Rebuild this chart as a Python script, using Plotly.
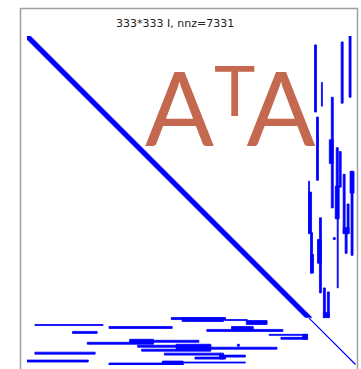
import plotly.graph_objects as go

# Sparsity pattern of the normal-equations matrix A^T A
N = 333
NNZ = 7331
band_rows = 285      # leading rows that carry the wide diagonal band
band_half = 3        # half-width of that band (|i - j| <= band_half)

# vertical runs of nonzeros in the trailing columns:
# (row_start, row_end, col_start, col_end), all inclusive
col_runs = [
    (9, 76, 291, 292),
    (47, 70, 298, 298),
    (6, 67, 318, 319),
    (0, 61, 326, 327),
    (82, 145, 293, 294),
    (62, 173, 308, 309),
    (105, 128, 306, 309),
    (113, 184, 313, 314),
    (152, 184, 312, 315),
    (117, 152, 316, 317),
    (152, 254, 314, 314),
    (140, 199, 320, 321),
    (170, 199, 324, 325),
    (194, 199, 320, 325),
    (196, 219, 322, 323),
    (137, 221, 328, 329),
    (137, 158, 327, 330),
    (147, 199, 285, 285),
    (158, 199, 285, 287),
    (199, 239, 287, 288),
    (221, 239, 287, 289),
    (184, 259, 296, 297),
    (206, 229, 294, 297),
    (255, 284, 300, 301),
    (259, 284, 304, 305),
    (280, 284, 300, 305),
    (204, 205, 310, 311),
]

# horizontal runs of nonzeros in the trailing rows
row_runs = [
    (285, 286, 146, 200),
    (285, 288, 157, 198),
    (287, 287, 200, 222),
    (288, 291, 222, 242),
    (292, 292, 8, 76),
    (294, 295, 83, 146),
    (294, 297, 207, 228),
    (297, 298, 182, 258),
    (299, 300, 46, 70),
    (302, 302, 245, 283),
    (305, 306, 257, 283),
    (302, 306, 279, 283),
    (308, 309, 104, 173),
    (307, 309, 104, 127),
    (310, 311, 61, 127),
    (312, 313, 213, 214),
    (313, 314, 112, 185),
    (312, 317, 151, 185),
    (315, 316, 185, 252),
    (317, 318, 116, 185),
    (320, 321, 8, 68),
    (321, 322, 139, 195),
    (323, 324, 195, 220),
    (321, 326, 195, 198),
    (325, 326, 170, 200),
    (328, 329, 0, 61),
    (330, 330, 137, 220),
    (331, 332, 83, 157),
    (329, 332, 137, 157),
]

BLUE = "#0000ff"

# each run becomes a filled cell-aligned rectangle
xs, ys = [], []
for r0, r1, c0, c1 in col_runs + row_runs:
    xl, xr = c0 - 0.5, c1 + 0.5
    yt, yb = r0 - 0.5, r1 + 0.5
    xs += [xl, xr, xr, xl, xl, None]
    ys += [yt, yt, yb, yb, yt, None]

# wide band along the leading part of the diagonal
e = band_rows - 0.5
band_x = [-0.5, band_half, e + band_half + 0.5, e - band_half - 0.5, -0.5, -0.5]
band_y = [-0.5, -0.5, e, e, band_half, -0.5]

fig = go.Figure()
fig.add_trace(go.Scatter(
    x=band_x, y=band_y, mode="lines", fill="toself",
    fillcolor=BLUE, line=dict(color=BLUE, width=0.5), hoverinfo="skip",
))
fig.add_trace(go.Scatter(
    x=xs, y=ys, mode="lines", fill="toself",
    fillcolor=BLUE, line=dict(color=BLUE, width=0.8), hoverinfo="skip",
))
# single-entry diagonal over the remaining rows
fig.add_trace(go.Scatter(
    x=[band_rows, N - 1], y=[band_rows, N - 1], mode="lines",
    line=dict(color=BLUE, width=1.2), hoverinfo="skip",
))

W, H = 361, 369
ml, mr, mt, mb = 27, 5, 36, 4
pw, ph = W - ml - mr, H - mt - mb


def px(x):
    return (x - ml) / pw


def py(y):
    return (H - mb - y) / ph


fig.update_layout(
    width=W,
    height=H,
    margin=dict(l=ml, r=mr, t=mt, b=mb, pad=0),
    paper_bgcolor="white",
    plot_bgcolor="white",
    xaxis=dict(range=[-0.5, N - 0.5], visible=False, fixedrange=True),
    yaxis=dict(range=[N - 0.5, -0.5], visible=False, fixedrange=True),
    showlegend=False,
)

# outer frame, running off the bottom edge
fig.add_shape(
    type="rect", xref="paper", yref="paper",
    x0=px(20.5), x1=px(357.5), y0=py(400), y1=py(8.5),
    line=dict(color="#a0a0a0", width=1.5), fillcolor="rgba(0,0,0,0)",
)

fig.add_annotation(
    text=f"{N}*{N} I, nnz={NNZ}",
    xref="paper", yref="paper", x=px(175), y=py(23),
    xanchor="center", yanchor="middle", showarrow=False,
    font=dict(family="DejaVu Sans", size=11, color="#222222"),
)

fig.add_annotation(
    text="A<span style='font-size:70px;baseline-shift:30px;letter-spacing:-9px'>T</span>A",
    xref="paper", yref="paper", x=px(230), y=py(107),
    xanchor="center", yanchor="middle", showarrow=False,
    font=dict(family="Lato", size=102, color="#c4694f"),
)

fig.write_html("out.html")
